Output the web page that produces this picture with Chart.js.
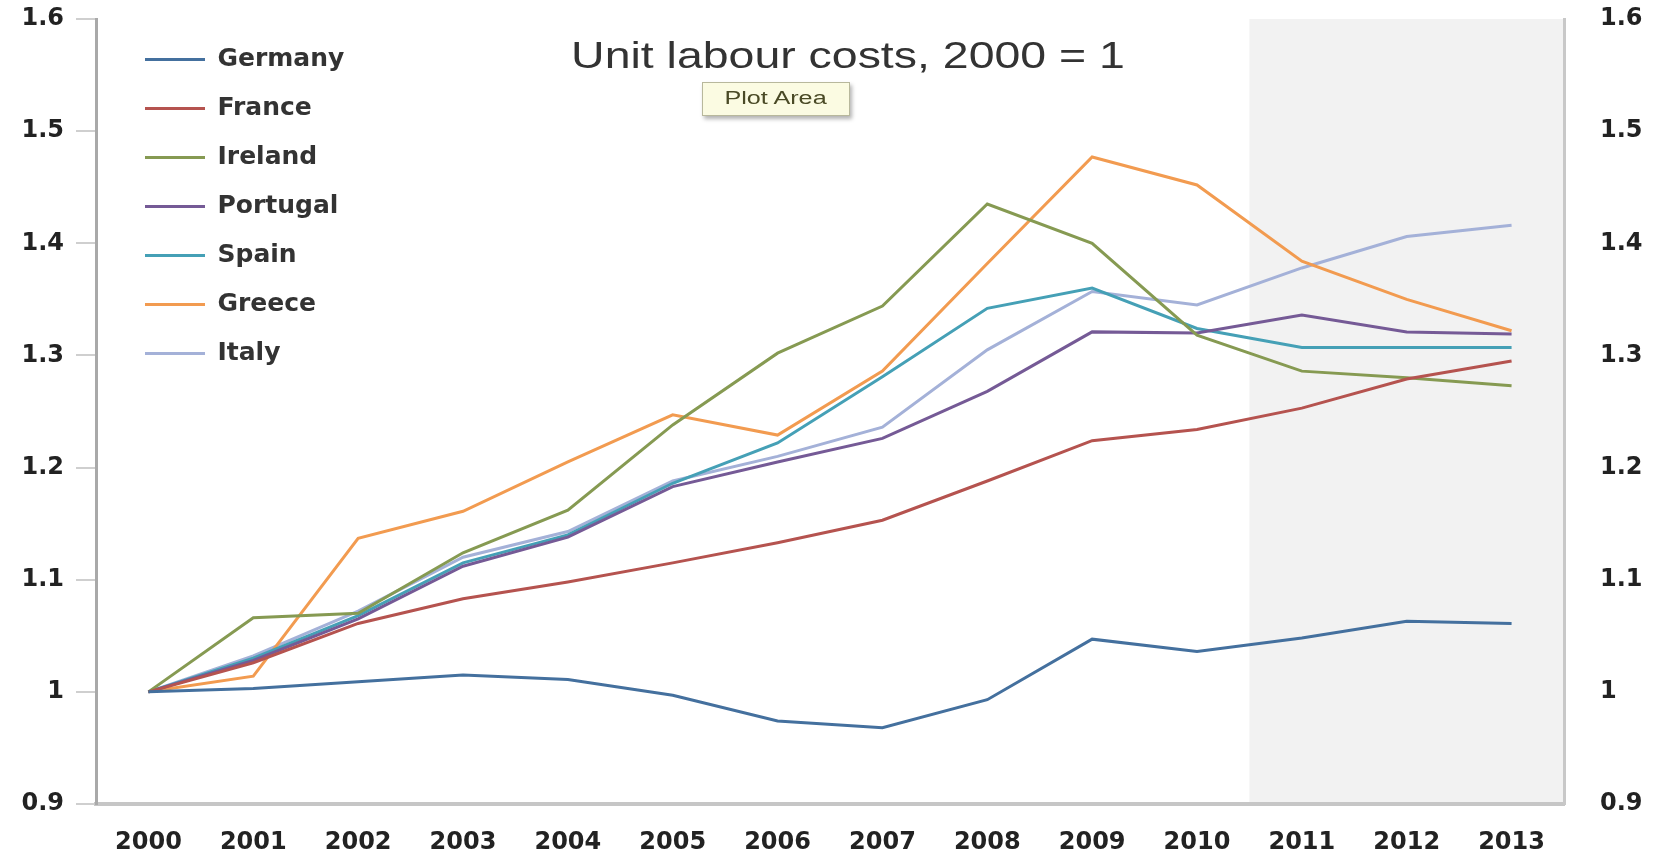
<!DOCTYPE html>
<html>
<head>
<meta charset="utf-8">
<script src="https://cdn.jsdelivr.net/npm/chart.js@4/dist/chart.umd.min.js"></script>
<style>
  body { margin: 0; background: #fff; }
  #wrap { position: relative; width: 1656px; height: 853px; }
  #title {
    position: absolute; left: 848px; top: 56px;
    transform: translate(-50%, -50%) scaleX(1.29);
    font: 36px "Liberation Sans", Arial, sans-serif; color: #333; white-space: nowrap;
  }
  #tip {
    position: absolute; left: 702px; top: 82px; width: 146px; height: 32px;
    background: #fbfbe2; border: 1px solid #b8b89c; box-shadow: 2px 3px 4px rgba(0,0,0,0.3);
    text-align: center; line-height: 32px;
  }
  #tip span {
    display: inline-block; transform: scaleX(1.4);
    font: 18px "Liberation Sans", Arial, sans-serif; color: #4a4a26;
  }
</style>
</head>
<body>
<div id="wrap">
  <canvas id="line-chart"></canvas>
  <div id="title">Unit labour costs, 2000 = 1</div>
  <div id="tip"><span>Plot Area</span></div>
</div>
<script>
let years = ['2000', '2001', '2002', '2003', '2004', '2005', '2006', '2007', '2008', '2009', '2010', '2011', '2012', '2013'];
let forecastStart = '2011';
let yTickLabels = ['0.9', '1', '1.1', '1.2', '1.3', '1.4', '1.5', '1.6'];

let germany  = [1.000, 1.003, 1.009, 1.015, 1.011, 0.997, 0.974, 0.968, 0.993, 1.047, 1.036, 1.048, 1.063, 1.061];
let france   = [1.000, 1.026, 1.061, 1.083, 1.098, 1.115, 1.133, 1.153, 1.188, 1.224, 1.234, 1.253, 1.279, 1.295];
let ireland  = [1.000, 1.066, 1.070, 1.124, 1.162, 1.238, 1.302, 1.344, 1.435, 1.400, 1.318, 1.286, 1.280, 1.273];
let portugal = [1.000, 1.028, 1.065, 1.112, 1.138, 1.183, 1.205, 1.226, 1.268, 1.321, 1.320, 1.336, 1.321, 1.319];
let spain    = [1.000, 1.030, 1.068, 1.115, 1.140, 1.186, 1.222, 1.281, 1.342, 1.360, 1.324, 1.307, 1.307, 1.307];
let greece   = [1.000, 1.014, 1.137, 1.161, 1.205, 1.247, 1.229, 1.286, 1.382, 1.477, 1.452, 1.384, 1.350, 1.322];
let italy    = [1.000, 1.032, 1.072, 1.120, 1.143, 1.188, 1.210, 1.236, 1.305, 1.357, 1.345, 1.378, 1.406, 1.416];

let series = [
  { label: 'Germany', data: germany, color: '#44709e' },
  { label: 'France', data: france, color: '#b5534f' },
  { label: 'Ireland', data: ireland, color: '#869a52' },
  { label: 'Portugal', data: portugal, color: '#755a96' },
  { label: 'Spain', data: spain, color: '#45a0b6' },
  { label: 'Greece', data: greece, color: '#f29b50' },
  { label: 'Italy', data: italy, color: '#a4b1d8' }
];

const tickFont = { family: 'DejaVu Sans', weight: 'bold', size: 24 };

// grey band for the forecast years
const forecastShade = {
  id: 'forecastShade',
  beforeDraw(chart) {
    const { ctx, chartArea, scales } = chart;
    const i = years.indexOf(forecastStart);
    const left = (scales.x.getPixelForValue(i - 1) + scales.x.getPixelForValue(i)) / 2;
    ctx.save();
    ctx.fillStyle = '#f2f2f2';
    ctx.fillRect(left, chartArea.top, chartArea.right - left, chartArea.bottom - chartArea.top);
    ctx.restore();
  }
};

// put the legend box in the top left corner of the plot
const legendSpot = {
  id: 'legendSpot',
  afterLayout(chart) {
    const lg = chart.legend;
    const w = lg.width, h = lg.height;
    lg.left = chart.chartArea.left + 25;
    lg.top = chart.chartArea.top + 4;
    lg.right = lg.left + w;
    lg.bottom = lg.top + h;
  }
};

function yLabel(value) {
  const i = Math.round((value - 0.9) * 10);
  return yTickLabels[i];
}

// fixed axis sizes, no extra room for the end labels
function fixWidth(w) {
  return s => { s.width = w; s.paddingTop = 0; s.paddingBottom = 0; };
}

new Chart(document.getElementById('line-chart'), {
  type: 'line',
  data: {
    labels: years,
    datasets: series.map(s => ({
      label: s.label,
      data: s.data,
      borderColor: s.color,
      backgroundColor: s.color,
      borderWidth: 3,
      pointRadius: 0,
      tension: 0,
      fill: false
    }))
  },
  options: {
    responsive: true,
    maintainAspectRatio: false,
    animation: false,
    layout: { padding: { top: 19, left: 0, right: 0, bottom: 0 } },
    plugins: {
      legend: {
        position: 'chartArea',
        align: 'start',
        fullSize: false,
        labels: {
          usePointStyle: true,
          pointStyle: 'line',
          pointStyleWidth: 60,
          padding: 24,
          color: '#333',
          font: { family: 'DejaVu Sans', weight: 'bold', size: 25 }
        }
      },
      title: { display: false },
      tooltip: { enabled: false }
    },
    scales: {
      x: {
        offset: true,
        grid: { drawOnChartArea: false, drawTicks: false },
        border: { color: '#c6c6c6', width: 4 },
        ticks: { color: '#222', font: tickFont, padding: 24, maxRotation: 0, autoSkip: false },
        afterFit(s) { s.height = 49; s.paddingLeft = 0; s.paddingRight = 0; }
      },
      y: {
        position: 'left',
        min: 0.9,
        max: 1.6,
        grid: { drawOnChartArea: false, drawTicks: true, tickLength: 20, color: '#cfcfcf', lineWidth: 2 },
        border: { color: '#a9a9a9', width: 3 },
        ticks: { stepSize: 0.1, color: '#222', font: tickFont, padding: 12, callback: yLabel },
        afterFit: fixWidth(96)
      },
      y2: {
        position: 'right',
        min: 0.9,
        max: 1.6,
        grid: { drawOnChartArea: false, drawTicks: false },
        border: { color: '#c8c8c8', width: 3 },
        ticks: { stepSize: 0.1, color: '#222', font: tickFont, padding: 36, callback: yLabel },
        afterFit: fixWidth(92)
      }
    }
  },
  plugins: [forecastShade, legendSpot]
});
</script>
</body>
</html>
